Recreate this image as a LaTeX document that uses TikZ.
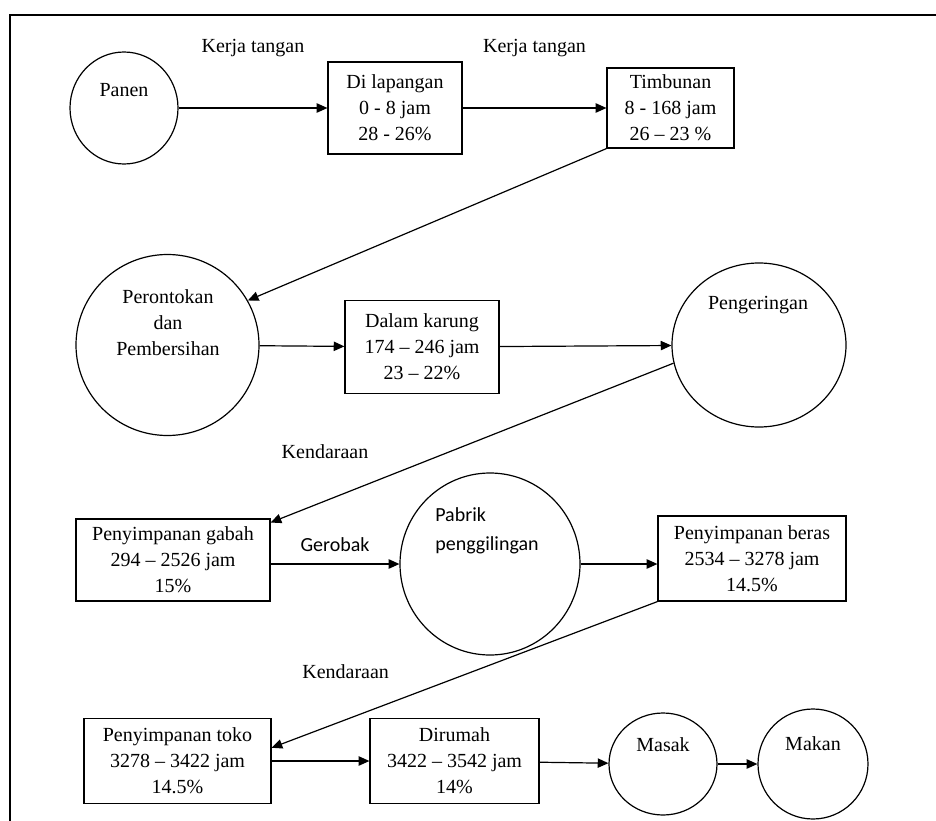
\documentclass[tikz,border=0pt]{standalone}
\usepackage{fontspec}
\setmainfont{Liberation Serif}
\newfontfamily\calibrifont{Carlito}
\usetikzlibrary{shapes.geometric, positioning, arrows.meta, calc}

\begin{document}
\begin{tikzpicture}[
    x=0.75pt, y=-0.75pt,
    stage/.style={rectangle, draw, line width=0.9pt, align=center, inner sep=0pt},
    process/.style={ellipse, draw, line width=0.9pt, inner sep=0pt},
    flow/.style={-{Triangle[length=8pt, width=7pt]}, line width=0.9pt},
    sans/.style={font=\calibrifont\fontsize{15}{21.75}\selectfont},
    every node/.style={font=\fontsize{15}{19.5}\selectfont}
]
    \useasboundingbox (0,0) rectangle (936,821);

    % Frame
    \draw[line width=1.4pt] (10,830) |- (945,15);

    % Panen
    \node[process, minimum width=81pt, minimum height=84pt] (panen) at (124,108) {};
    \node (panen-txt) at (124,90) {Panen};

    % Di lapangan
    \node[stage, minimum width=100.5pt, minimum height=69pt] (lapangan) at (395,108) {
        Di lapangan \\ 0 - 8 jam \\ 28 - 26\%
    };

    % Timbunan
    \node[stage, minimum width=95.25pt, minimum height=60pt] (timbunan) at (670.5,108) {
        Timbunan \\ 8 - 168 jam \\ 26 -- 23 \%
    };

    % Perontokan dan Pembersihan
    \node[process, minimum width=137.25pt, minimum height=135.75pt] (perontokan) at (167.5,345) {};
    \node[align=center] (perontokan-txt) at (168,323) {Perontokan \\ dan \\ Pembersihan};

    % Dalam karung
    \node[stage, minimum width=115.5pt, minimum height=69.75pt] (karung) at (422,347) {
        Dalam karung \\ 174 -- 246 jam \\ 23 -- 22\%
    };

    % Pengeringan
    \node[process, minimum width=130.5pt, minimum height=123pt] (pengeringan) at (759,345) {};
    \node (pengeringan-txt) at (758,305) {Pengeringan};

    % Penyimpanan gabah
    \node[stage, minimum width=145.5pt, minimum height=61.5pt] (gabah) at (173,560) {
        Penyimpanan gabah \\ 294 -- 2526 jam \\ 15\%
    };

    % Pabrik penggilingan
    \node[process, minimum width=135pt, minimum height=136.5pt] (pabrik) at (490,564) {};
    \node[sans, align=left] (pabrik-txt) at (487,531) {Pabrik \\ penggilingan};

    % Penyimpanan beras
    \node[stage, minimum width=141pt, minimum height=63.75pt] (beras) at (752,558.5) {
        Penyimpanan beras \\ 2534 -- 3278 jam \\ 14.5\%
    };

    % Penyimpanan toko
    \node[stage, minimum width=140.25pt, minimum height=63.75pt] (toko) at (177.5,761) {
        Penyimpanan toko \\ 3278 -- 3422 jam \\ 14.5\%
    };

    % Dirumah
    \node[stage, minimum width=126.75pt, minimum height=63.75pt] (rumah) at (454.5,761) {
        Dirumah \\ 3422 -- 3542 jam \\ 14\%
    };

    % Masak
    \node[process, minimum width=81pt, minimum height=76.5pt] (masak) at (663,764) {};
    \node (masak-txt) at (663,745) {Masak};

    % Makan
    \node[process, minimum width=82.5pt, minimum height=82.5pt] (makan) at (813,764) {};
    \node (makan-txt) at (813,744) {Makan};

    % Alur
    \draw[flow] (panen) -- (lapangan) node[midway, yshift=45pt] (kerja1) {Kerja tangan};
    \draw[flow] (lapangan) -- (timbunan) node[midway, yshift=45pt] (kerja2) {Kerja tangan};
    \draw[flow] (timbunan.south west) -- (perontokan.29);
    \draw[flow] (perontokan) -- (karung);
    \draw[flow] (karung) -- (pengeringan);
    \draw[flow] (pengeringan.192) -- (gabah.21) node[pos=0.865, yshift=36.75pt] (kendaraan1) {Kendaraan};
    \draw[flow] (gabah.east |- pabrik.west) -- (pabrik.west) node[midway, sans, yshift=14.25pt] (gerobak) {Gerobak};
    \draw[flow] (pabrik.east) -- (pabrik.east -| beras.west);
    \draw[flow] (beras.south west) -- (toko.8) node[pos=0.808, yshift=36pt] (kendaraan2) {Kendaraan};
    \draw[flow] (toko) -- (rumah);
    \draw[flow] (rumah) -- (masak);
    \draw[flow] (masak) -- (makan);

\end{tikzpicture}
\end{document}
